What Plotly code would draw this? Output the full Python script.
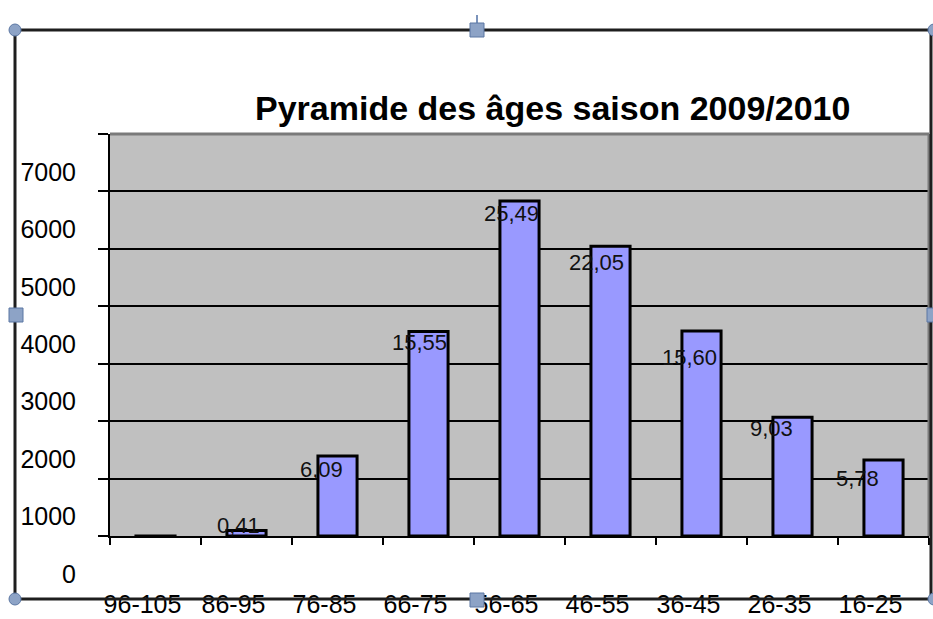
import plotly.graph_objects as go

# ---- data ----
AGE_GROUPS = ["96-105", "86-95", "76-85", "66-75", "56-65", "46-55", "36-45", "26-35", "16-25"]
COUNTS = [2, 94, 1394, 3559, 5834, 5047, 3570, 2067, 1323]
PCT_LABELS = ["", "0,41", "6,09", "15,55", "25,49", "22,05", "15,60", "9,03", "5,78"]
Y_TICKS = [0, 1000, 2000, 3000, 4000, 5000, 6000, 7000]
TITLE = "Pyramide des âges saison 2009/2010"

# label offsets (layout tuning, px)
LABEL_DX = [0, -8, -16, -9, -8, -14, -12, -21, -26]
LABEL_DY = [0, 5, -14, -11, -13, -16, -27, -11, -18]

W, H = 933, 619
ML, MR, MT, MB = 110, 4, 134, 83
PW, PH = W - ML - MR, H - MT - MB
FONT = "Liberation Sans, Arial, sans-serif"


def px(x):
    return (x - ML) / PW


def py(y):
    return (H - MB - y) / PH


fig = go.Figure()
fig.add_trace(go.Bar(
    x=AGE_GROUPS, y=COUNTS,
    marker=dict(color="#9999FF", line=dict(color="#000000", width=3)),
    hoverinfo="skip",
))

annotations = []
for cat, val, lab, dx, dy in zip(AGE_GROUPS, COUNTS, PCT_LABELS, LABEL_DX, LABEL_DY):
    if not lab:
        continue
    annotations.append(dict(
        x=cat, y=val, xref="x", yref="y", text=lab, showarrow=False,
        xanchor="center", yanchor="middle", xshift=dx, yshift=dy,
        font=dict(family=FONT, size=22, color="#111111"),
    ))

annotations.append(dict(
    x=px(552), y=py(108), xref="paper", yref="paper", text="<b>" + TITLE + "</b>",
    showarrow=False, xanchor="center", yanchor="middle",
    font=dict(family=FONT, size=34, color="#000000"),
))

shapes = []
# plot area top/right grey border
shapes.append(dict(type="line", xref="paper", yref="paper", x0=0, x1=1, y0=1, y1=1,
                   line=dict(color="#7a7a7a", width=3), layer="above"))
shapes.append(dict(type="line", xref="paper", yref="paper", x0=1, x1=1, y0=0, y1=1,
                   line=dict(color="#7a7a7a", width=3), layer="above"))
# chart object frame
shapes.append(dict(type="rect", xref="paper", yref="paper",
                   x0=px(15), x1=px(931), y0=py(599), y1=py(30),
                   line=dict(color="#1e1e1e", width=3), layer="above"))
# small line above top handle
shapes.append(dict(type="line", xref="paper", yref="paper",
                   x0=px(477), x1=px(477), y0=py(15), y1=py(25),
                   line=dict(color="#7b93bb", width=2), layer="above"))
HANDLE_FILL = "#8da3c6"
HANDLE_LINE = "#5b77a3"
for cx, cy in [(15, 30), (15, 599), (934, 30), (934, 599)]:
    shapes.append(dict(type="circle", xref="paper", yref="paper",
                       x0=px(cx - 6), x1=px(cx + 6), y0=py(cy + 6), y1=py(cy - 6),
                       fillcolor=HANDLE_FILL, line=dict(color=HANDLE_LINE, width=1), layer="above"))
for cx, cy in [(477, 30), (16, 315), (934, 315), (477, 600)]:
    shapes.append(dict(type="rect", xref="paper", yref="paper",
                       x0=px(cx - 7), x1=px(cx + 7), y0=py(cy + 7), y1=py(cy - 7),
                       fillcolor=HANDLE_FILL, line=dict(color=HANDLE_LINE, width=1), layer="above"))

fig.update_layout(
    width=W, height=H,
    margin=dict(l=ML, r=MR, t=MT, b=MB, pad=0, autoexpand=False),
    paper_bgcolor="#FFFFFF",
    plot_bgcolor="#C0C0C0",
    bargap=0.57,
    showlegend=False,
    font=dict(family=FONT, color="#000000"),
    annotations=annotations,
    shapes=shapes,
)
fig.update_xaxes(
    type="category", categoryorder="array", categoryarray=AGE_GROUPS,
    automargin=False,
    showgrid=False, showline=True, linecolor="#000000", linewidth=2,
    ticks="outside", tickson="boundaries", ticklen=7, tickcolor="#000000", tickwidth=1.5,
    tickfont=dict(family=FONT, size=25, color="#000000"),
    ticklabelshift=-13, ticklabelstandoff=45,
    fixedrange=True,
)
fig.update_yaxes(
    range=[0, 7000], tickvals=Y_TICKS, ticktext=[str(v) for v in Y_TICKS],
    automargin=False,
    showgrid=True, gridcolor="#000000", gridwidth=1.5,
    showline=True, linecolor="#000000", linewidth=2,
    ticks="outside", ticklen=10, tickcolor="#000000", tickwidth=1.5,
    tickfont=dict(family=FONT, size=25, color="#000000"),
    ticklabelshift=38, ticklabelstandoff=17,
    zeroline=False, fixedrange=True,
)

fig.write_html(
    "out.html",
    config={"displayModeBar": False},
    post_script="document.body.style.margin='0';document.body.style.padding='0';document.body.style.overflow='hidden';",
)
